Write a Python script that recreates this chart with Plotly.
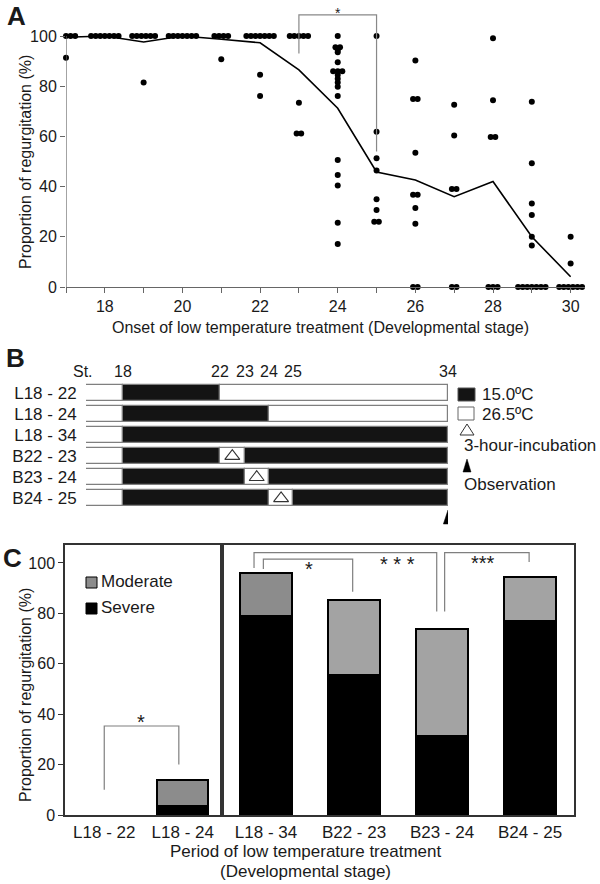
import plotly.graph_objects as go

FONT = "Liberation Sans, Arial, sans-serif"
TXT = "#1a1a1a"

# ---------------- Panel A data ----------------
stages = list(range(17, 31))
st17 = [100, 100, 100, 100, 100, 91.3]
st18 = [100, 100, 100, 100, 100, 100, 100]
st19 = [100, 100, 100, 100, 100, 100, 81.5]
st20 = [100, 100, 100, 100, 100, 100, 100]
st21 = [100, 100, 100, 100, 90.7]
st22 = [100, 100, 100, 100, 100, 100, 100, 84.6, 76.1]
st23 = [100, 100, 100, 100, 100, 73.4, 61.2, 61.2]
st24 = [100, 95.5, 95.5, 94.4, 93.5, 89.5, 86, 86, 86, 84.5, 83, 81.5, 79.8,
        76.1, 50.6, 44.6, 40.4, 25.6, 17.1]
st25 = [100, 61.9, 51.3, 46.4, 35, 30.7, 26, 26]
st26 = [90.2, 74.9, 74.9, 53.5, 36.8, 36.8, 31.5, 25.2, 0, 0]
st27 = [72.6, 60.4, 39, 39, 0, 0]
st28 = [99.1, 74.4, 59.8, 59.8, 0, 0, 0]
st29 = [73.8, 49.3, 33.3, 28.7, 20, 16.5, 0, 0, 0, 0, 0, 0, 0]
st30 = [20, 9.4, 0, 0, 0, 0, 0, 0]
stage_values = [st17, st18, st19, st20, st21, st22, st23, st24, st25, st26,
                st27, st28, st29, st30]
mean_line = [99.5, 100, 97.6, 100, 98.7, 97.3, 86.5, 71.2, 45.8, 42.6, 36, 42,
             20, 4.1]

# ---------------- Panel B data ----------------
rows = ["L18 - 22", "L18 - 24", "L18 - 34", "B22 - 23", "B23 - 24", "B24 - 25"]
cold_from = [18, 18, 18, 18, 18, 18]
cold_until = [22, 24, 34, 34, 34, 34]
incub_from = [None, None, None, 22, 23, 24]
incub_until = [None, None, None, 23, 24, 25]
stage_marks = [18, 22, 23, 24, 25, 34]
end_stage = 34

# ---------------- Panel C data ----------------
periods = ["L18 - 22", "L18 - 24", "L18 - 34", "B22 - 23", "B23 - 24", "B24 - 25"]
severe = [0, 3.7, 79.1, 55.6, 31.5, 77.0]
moderate = [0, 10.2, 16.8, 29.7, 42.3, 17.3]

# ---------------- helpers ----------------
def px(x):
    return x / 600.0


def py(y):
    return 1 - y / 884.0


def swarm(stage, values, step=0.118):
    xs, ys = [], []
    for v in sorted(set(values), reverse=True):
        n = values.count(v)
        for i in range(n):
            xs.append(stage + (i - (n - 1) / 2) * step)
            ys.append(v)
    return xs, ys


PRE = 16.5  # schematic left end of the bars


def sx(s):
    return s if s <= 25 else 25 + (s - 25) * 0.705


fig = go.Figure()

# ---------------- Panel A ----------------
ax, ay = [], []
for s, vals in zip(stages, stage_values):
    xs, ys = swarm(s, vals)
    ax += xs
    ay += ys
fig.add_trace(go.Scatter(x=stages, y=mean_line, mode="lines",
                         line=dict(color="black", width=1.6),
                         xaxis="x", yaxis="y", hoverinfo="skip"))
fig.add_trace(go.Scatter(x=ax, y=ay, mode="markers",
                         marker=dict(color="black", size=6),
                         cliponaxis=False, xaxis="x", yaxis="y"))

shapes = []
annots = []
shapes.append(dict(type="line", xref="x", yref="y", x0=17, x1=17, y0=0, y1=100,
                   line=dict(color="#666", width=1.2)))
# bracket 23 vs 25
shapes.append(dict(type="path", xref="x", yref="y",
                   path="M 23,93 L 23,108.4 L 25,108.4 L 25,54",
                   line=dict(color="#888", width=1.2)))
annots.append(dict(x=24, y=109.3, xref="x", yref="y", text="*",
                   yanchor="middle", font=dict(size=14)))

# ---------------- Panel B ----------------
BLACK = "#141414"
for i, r in enumerate(rows):
    segs = [(PRE, cold_from[i], "white")]
    if incub_from[i] is not None:
        segs += [(cold_from[i], incub_from[i], BLACK),
                 (incub_from[i], incub_until[i], "white"),
                 (incub_until[i], cold_until[i], BLACK)]
    else:
        segs.append((cold_from[i], cold_until[i], BLACK))
    if cold_until[i] < end_stage:
        segs.append((cold_until[i], end_stage, "white"))
    for a, b, c in segs:
        x0 = PRE if a == PRE else sx(a)
        fig.add_trace(go.Bar(x=[sx(b) - x0], base=[x0], y=[i], orientation="h",
                             width=0.756, marker=dict(color=c,
                             line=dict(color="#7f7f7f", width=1.2)),
                             cliponaxis=False, xaxis="x2", yaxis="y2"))
    if incub_from[i] is not None:
        fig.add_trace(go.Scatter(x=[(sx(incub_from[i]) + sx(incub_until[i])) / 2],
                                 y=[i], mode="markers",
                                 marker=dict(symbol="triangle-up-open", size=13,
                                             color="#333", line=dict(width=1.1)),
                                 xaxis="x2", yaxis="y2"))

annots.append(dict(x=px(83), y=py(371), xref="paper", yref="paper", text="St.",
                   font=dict(size=16)))
for s in stage_marks:
    annots.append(dict(x=sx(s), y=py(371), xref="x2", yref="paper", text=str(s),
                       font=dict(size=16)))
# observation arrowhead below the bars
xo = sx(end_stage)
shapes.append(dict(type="path", xref="x2", yref="paper",
                   path=f"M {xo},{py(510)} L {xo-0.19},{py(524)} L {xo+0.19},{py(524)} Z",
                   fillcolor="black", line=dict(color="black", width=0.5)))
# legend of panel B
shapes.append(dict(type="rect", xref="paper", yref="paper", x0=px(458), x1=px(475),
                   y0=py(401), y1=py(388), fillcolor=BLACK, line=dict(color="#555", width=1)))
shapes.append(dict(type="rect", xref="paper", yref="paper", x0=px(458), x1=px(474),
                   y0=py(420), y1=py(407), fillcolor="white", line=dict(color="#666", width=1)))
shapes.append(dict(type="path", xref="paper", yref="paper",
                   path=f"M {px(467)},{py(424)} L {px(460)},{py(435)} L {px(474)},{py(435)} Z",
                   fillcolor="white", line=dict(color="#333", width=1)))
shapes.append(dict(type="path", xref="paper", yref="paper",
                   path=f"M {px(467)},{py(459)} L {px(463)},{py(472)} L {px(471)},{py(472)} Z",
                   fillcolor="black", line=dict(color="black", width=0.5)))
for t, xx, yy in [("15.0ºC", 480, 394), ("26.5ºC", 480, 414),
                  ("3-hour-incubation", 462, 445), ("Observation", 462, 484)]:
    annots.append(dict(x=px(xx), y=py(yy), xref="paper", yref="paper", text=t,
                       xanchor="left", font=dict(size=17)))

# ---------------- Panel C ----------------
MOD_L = "#8c8c8c"
MOD_R = "#a3a3a3"
for (a, b), xa, ya, w in [((0, 2), "x3", "y3", 0.65), ((2, 6), "x4", "y4", 0.59)]:
    xs = list(range(b - a))
    sev = severe[a:b]
    mod = moderate[a:b]
    cols = [MOD_L if periods[k].startswith("L") else MOD_R for k in range(a, b)]
    lw_s = [2 if v > 0 else 0 for v in sev]
    lw_m = [2 if v > 0 else 0 for v in mod]
    fig.add_trace(go.Bar(x=xs, y=sev, base=[0] * len(xs), width=w,
                         marker=dict(color="black", line=dict(color="black", width=lw_s)),
                         xaxis=xa, yaxis=ya))
    fig.add_trace(go.Bar(x=xs, y=mod, base=sev, width=w,
                         marker=dict(color=cols, line=dict(color="black", width=lw_m)),
                         xaxis=xa, yaxis=ya))

# significance brackets in C
brackets = [
    ("x3", "y3", 0.0, 0.95, 10, 20, 35.3, "*", 0.47, 36.8, 20),
    ("x4", "y4", -0.136, 1.94, 98.0, 80.7, 104.1, "* * *", 1.49, 99.6, 20),
    ("x4", "y4", -0.03, 0.985, 97.6, 88.6, 101.5, "*", 0.49, 97.6, 20),
    ("x4", "y4", 2.03, 2.99, 80.7, 100.4, 104.1, "***", 2.47, 99.8, 20),
]
for xa, ya, xl, xr, yl, yr, yt, lab, lx, ly, fs in brackets:
    shapes.append(dict(type="path", xref=xa, yref=ya,
                       path=f"M {xl},{yl} L {xl},{yt} L {xr},{yt} L {xr},{yr}",
                       line=dict(color="#7f7f7f", width=1.2)))
    annots.append(dict(x=lx, y=ly, xref=xa, yref=ya, text=lab, font=dict(size=fs)))

# legend of panel C
shapes.append(dict(type="rect", xref="paper", yref="paper", x0=px(86), x1=px(97),
                   y0=py(588), y1=py(577), fillcolor=MOD_L, line=dict(color="black", width=1)))
shapes.append(dict(type="rect", xref="paper", yref="paper", x0=px(86), x1=px(97),
                   y0=py(614), y1=py(603), fillcolor="black", line=dict(color="black", width=1)))
annots.append(dict(x=px(99), y=py(581), xref="paper", yref="paper", text="Moderate",
                   xanchor="left", font=dict(size=17)))
annots.append(dict(x=px(99), y=py(607), xref="paper", yref="paper", text="Severe",
                   xanchor="left", font=dict(size=17)))

# ---------------- titles / panel letters ----------------
annots += [
    dict(x=px(16), y=py(16), text="<b>A</b>", font=dict(size=26)),
    dict(x=px(15), y=py(358), text="<b>B</b>", font=dict(size=26)),
    dict(x=px(12), y=py(558), text="<b>C</b>", font=dict(size=26)),
    dict(x=px(25), y=py(162), text="Proportion of regurgitation (%)", textangle=-90,
         font=dict(size=16)),
    dict(x=px(320), y=py(327), text="Onset of low temperature treatment (Developmental stage)",
         font=dict(size=16)),
    dict(x=px(25), y=py(695), text="Proportion of regurgitation (%)", textangle=-90,
         font=dict(size=16)),
    dict(x=px(305), y=py(851), text="Period of low temperature treatment",
         font=dict(size=17)),
    dict(x=px(305), y=py(871), text="(Developmental stage)", font=dict(size=17)),
]
for a in annots[-8:]:
    a.update(xref="paper", yref="paper")
for a in annots:
    a.setdefault("showarrow", False)
    a.setdefault("xanchor", "center")
    a.setdefault("yanchor", "middle")

axis_common = dict(showgrid=False, zeroline=False, automargin=False)
fig.update_layout(
    width=600, height=884, margin=dict(l=0, r=0, t=0, b=0, pad=0),
    paper_bgcolor="white", plot_bgcolor="white", showlegend=False,
    barmode="overlay", bargap=0,
    font=dict(family=FONT, size=16, color=TXT),
    xaxis=dict(domain=[px(66), px(585)], range=[17, 30.37], tickvals=stages,
               ticktext=[str(s) if s % 2 == 0 else "" for s in stages],
               ticks="outside", ticklen=5, tickcolor="#666", showline=True,
               linecolor="#666", linewidth=1.2, anchor="y", **axis_common),
    yaxis=dict(domain=[py(287), py(10.9)], range=[0, 110],
               tickvals=[0, 20, 40, 60, 80, 100], ticks="outside", ticklen=5,
               tickcolor="#666", showline=False, anchor="x", **axis_common),
    xaxis2=dict(domain=[px(86), px(448)], range=[PRE, sx(end_stage)], visible=False,
                anchor="y2", **axis_common),
    yaxis2=dict(domain=[py(509), py(382)], range=[5.5, -0.5],
                tickvals=list(range(len(rows))), ticktext=rows, ticks="outside",
                ticklen=5, tickcolor="rgba(0,0,0,0)", showline=False,
                tickfont=dict(size=17), anchor="x2", **axis_common),
    xaxis3=dict(domain=[px(65), px(222)], range=[-0.5, 1.5], tickvals=[0, 1],
                ticktext=periods[:2], ticks="outside", ticklen=1,
                tickcolor="rgba(0,0,0,0)", showline=True, mirror=True,
                linecolor="#333", linewidth=1.5, tickfont=dict(size=17),
                anchor="y3", **axis_common),
    yaxis3=dict(domain=[py(815), py(545)], range=[0, 107.1],
                tickvals=[0, 20, 40, 60, 80, 100], ticks="outside", ticklen=5,
                tickcolor="#333", showline=True, mirror=True, linecolor="#333",
                linewidth=1.5, anchor="x3", **axis_common),
    xaxis4=dict(domain=[px(222), px(574)], range=[-0.5, 3.5], tickvals=[0, 1, 2, 3],
                ticktext=periods[2:], ticks="outside", ticklen=1,
                tickcolor="rgba(0,0,0,0)", showline=True, mirror=True,
                linecolor="#333", linewidth=1.5, tickfont=dict(size=17),
                anchor="y4", **axis_common),
    yaxis4=dict(domain=[py(815), py(545)], range=[0, 107.1], showticklabels=False,
                ticks="", showline=True, mirror=True, linecolor="#333",
                linewidth=1.5, anchor="x4", **axis_common),
    shapes=shapes, annotations=annots,
)

fig.write_html("out.html", config={"displayModeBar": False},
               post_script="document.body.style.margin='0';document.body.style.overflow='hidden';")
